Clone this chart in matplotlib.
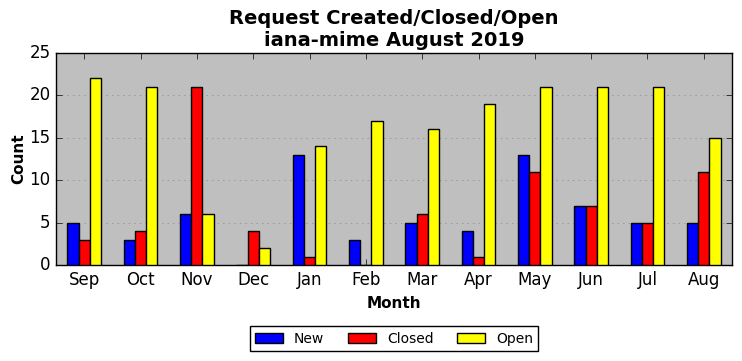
import numpy as np
import matplotlib
matplotlib.use('Agg')
import matplotlib.pyplot as plt

months = ['Sep', 'Oct', 'Nov', 'Dec', 'Jan', 'Feb',
          'Mar', 'Apr', 'May', 'Jun', 'Jul', 'Aug']
new_counts = [5, 3, 6, 0, 13, 3, 5, 4, 13, 7, 5, 5]
closed_counts = [3, 4, 21, 4, 1, 0, 6, 1, 11, 7, 5, 11]
open_counts = [22, 21, 6, 2, 14, 17, 16, 19, 21, 21, 21, 15]

plt.style.use('classic')
plt.rcParams['font.family'] = 'DejaVu Sans'

fig = plt.figure(figsize=(7.42, 3.61), dpi=100, facecolor='white')
ax = fig.add_axes([56 / 742, 1 - 265 / 361, 676 / 742, 212 / 361])
ax.set_facecolor('#bfbfbf')

x = np.arange(len(months))
w = 0.2
ax.bar(x - w, new_counts, w, color='blue', edgecolor='black', label='New', zorder=3)
ax.bar(x, closed_counts, w, color='red', edgecolor='black', label='Closed', zorder=3)
ax.bar(x + w, open_counts, w, color='yellow', edgecolor='black', label='Open', zorder=3)

ax.set_xlim(-0.5, len(months) - 0.5)
ax.set_ylim(0, 25)
ax.set_xticks(x)
ax.set_xticklabels(months, fontsize=12)
ax.set_yticks(range(0, 26, 5))
ax.tick_params(axis='y', labelsize=12)
ax.yaxis.grid(True, linestyle=':', color='#888888', zorder=0)
ax.xaxis.grid(False)
ax.set_axisbelow(True)

ax.set_xlabel('Month', fontsize=11, fontweight='bold')
ax.set_ylabel('Count', fontsize=11, fontweight='bold', labelpad=2)
ax.set_title('Request Created/Closed/Open\niana-mime August 2019',
             fontsize=14, fontweight='bold')

ax.legend(loc='upper center', bbox_to_anchor=(0.5, -0.255), ncol=3,
          fontsize=10, fancybox=False, framealpha=1, edgecolor='black',
          columnspacing=1.7)

fig.savefig('out.png', dpi=100, facecolor='white')
